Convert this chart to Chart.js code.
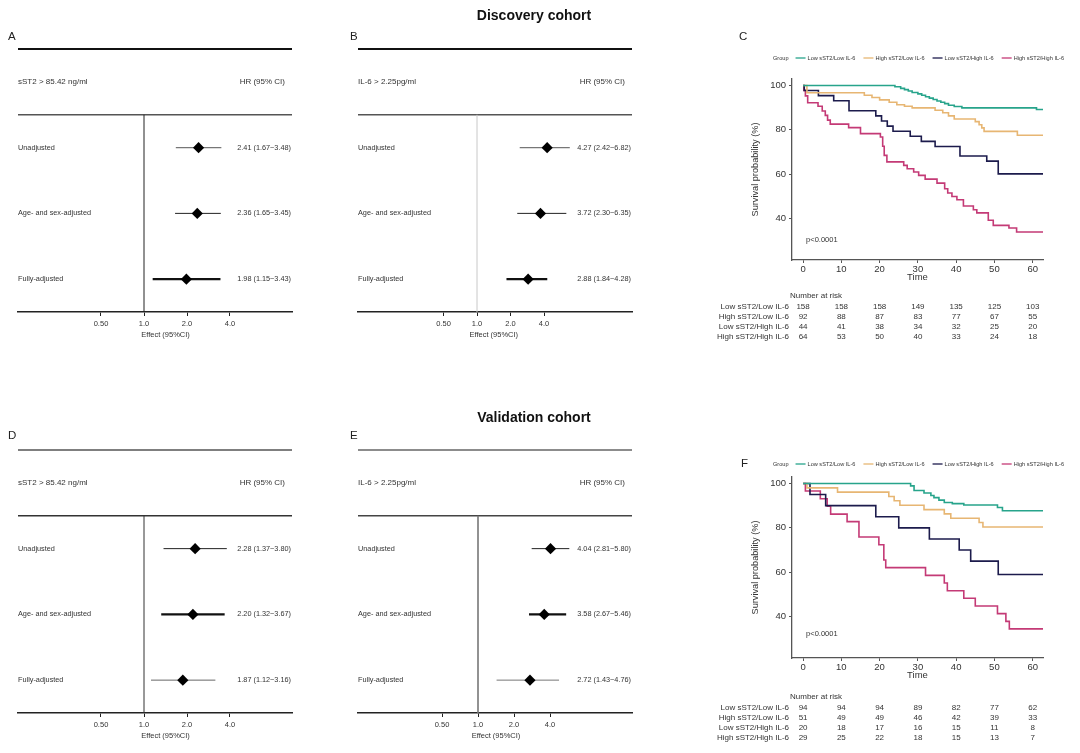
<!DOCTYPE html>
<html><head><meta charset="utf-8">
<script src="https://cdn.jsdelivr.net/npm/chart.js@4.4.0/dist/chart.umd.min.js"></script>
<style>
html,body{margin:0;padding:0;background:#fff;}
#wrap{position:relative;width:1080px;height:753px;overflow:hidden;background:#fff;font-family:"Liberation Sans",Arial,sans-serif;}
#wrap canvas{position:absolute;left:0;top:0;}
.lbl{position:absolute;font-size:11.5px;color:#222;line-height:1;transform:translateY(-50%);}
.ttl{position:absolute;font-weight:bold;font-size:14px;color:#111;transform:translate(-50%,-50%);white-space:nowrap;}
</style></head><body>
<div id="wrap">
<canvas id="cA" width="1080" height="753"></canvas>
<canvas id="cB" width="1080" height="753"></canvas>
<canvas id="cC" width="1080" height="753"></canvas>
<canvas id="cD" width="1080" height="753"></canvas>
<canvas id="cE" width="1080" height="753"></canvas>
<canvas id="cF" width="1080" height="753"></canvas>
<div class="ttl" style="left:534px;top:15px">Discovery cohort</div>
<div class="ttl" style="left:534px;top:417px">Validation cohort</div>
<div class="lbl" style="left:8px;top:37px">A</div>
<div class="lbl" style="left:350px;top:37px">B</div>
<div class="lbl" style="left:739px;top:37px">C</div>
<div class="lbl" style="left:8px;top:436px">D</div>
<div class="lbl" style="left:350px;top:436px">E</div>
<div class="lbl" style="left:741px;top:464px">F</div>
</div>
<script>
// ---------------- DATA ----------------
const forestRows = ['Unadjusted', 'Age- and sex-adjusted', 'Fully-adjusted'];
const forestTickValues = [0.5, 1, 2, 4];
const forestTickLabels = ['0.50', '1.0', '2.0', '4.0'];

const hrA = [2.41, 2.36, 1.98];
const loA = [1.67, 1.65, 1.15];
const hiA = [3.48, 3.45, 3.43];

const hrB = [4.27, 3.72, 2.88];
const loB = [2.42, 2.30, 1.84];
const hiB = [6.82, 6.35, 4.28];

const hrD = [2.28, 2.20, 1.87];
const loD = [1.37, 1.32, 1.12];
const hiD = [3.80, 3.67, 3.16];

const hrE = [4.04, 3.58, 2.72];
const loE = [2.81, 2.67, 1.43];
const hiE = [5.80, 5.46, 4.76];

const groups = ['Low sST2/Low IL-6', 'High sST2/Low IL-6', 'Low sST2/High IL-6', 'High sST2/High IL-6'];
const kmTimeTicks = [0, 10, 20, 30, 40, 50, 60];
const kmSurvTicks = [40, 60, 80, 100];
const riskTimes = [0, 10, 20, 30, 40, 50, 60];

// Discovery cohort KM (time, survival %)
const tC1 = [0, 24, 25.5, 26.5, 27.5, 28.5, 30, 31, 32, 33, 34, 35, 36, 37, 38, 39.5, 41.5, 61, 62.8];
const sC1 = [100, 99.4, 98.7, 98.1, 97.5, 96.8, 96.2, 95.6, 94.9, 94.3, 93.7, 93.0, 92.4, 91.8, 91.1, 90.5, 89.9, 89.2, 89.2];
const tC2 = [0, 1, 16, 18, 20, 22.5, 24.5, 26.5, 28.5, 34.5, 36.5, 38, 39.5, 45, 46, 46.7, 47.3, 56, 62.8];
const sC2 = [100, 96.7, 95.6, 94.6, 93.5, 92.4, 91.3, 90.6, 89.9, 88.8, 87.7, 86.3, 84.9, 83.7, 82.3, 80.9, 79.3, 77.6, 77.6];
const tC3 = [0, 0.3, 4, 8, 12, 19, 20.5, 22, 23.5, 28, 30.9, 34.5, 41, 48, 51, 62.8];
const sC3 = [100, 97.7, 95.4, 93.1, 88.6, 86.3, 84.0, 81.7, 79.4, 77.1, 74.8, 72.5, 68.2, 65.9, 60.2, 60.2];
const tC4 = [0, 0.2, 0.6, 1.2, 3.9, 5, 5.8, 6.4, 7.1, 11.9, 15, 20.2, 20.8, 21.2, 21.9, 26.3, 27.2, 28.9, 30.2, 31.9, 35, 37, 37.8, 38.9, 40.2, 41.9, 44.5, 45.4, 48.4, 49.7, 53.8, 55.8, 62.8];
const sC4 = [100, 97.8, 95.3, 92.2, 90.6, 88.5, 86.5, 84.4, 82.6, 81.0, 78.3, 76.8, 72.6, 68.5, 65.6, 64.0, 62.5, 61.0, 59.5, 57.8, 56.0, 53.5, 51.6, 50.0, 48.5, 45.7, 44.0, 42.6, 39.3, 37.0, 35.8, 34.0, 34.0];
const riskC1 = [158, 158, 158, 149, 135, 125, 103];
const riskC2 = [92, 88, 87, 83, 77, 67, 55];
const riskC3 = [44, 41, 38, 34, 32, 25, 20];
const riskC4 = [64, 53, 50, 40, 33, 24, 18];

// Validation cohort KM
const tF1 = [0, 28.1, 29, 31.6, 33.4, 34.2, 35.5, 36.9, 39, 42, 50.8, 52.1, 62.8];
const sF1 = [100, 98.9, 96.8, 95.7, 94.6, 93.6, 92.5, 91.4, 90.9, 90.3, 89.2, 87.7, 87.7];
const tF2 = [0, 1, 9, 22.4, 23.8, 25.3, 31.6, 36.9, 38.6, 46, 47, 62.8];
const sF2 = [100, 98.0, 96.1, 94.1, 92.2, 90.2, 88.2, 86.3, 84.3, 82.4, 80.4, 80.4];
const tF3 = [0, 1.8, 5.9, 19, 25, 33, 40.8, 43.8, 51, 62.8];
const sF3 = [100, 95, 90, 85, 80, 75, 70, 65, 59, 59];
const tF4 = [0, 0.6, 4.5, 6.3, 7.2, 11.5, 14.6, 19.8, 21.1, 21.6, 32, 36.9, 37.7, 42, 45, 50.8, 53, 53.9, 62.8];
const sF4 = [100, 96.6, 93.1, 89.7, 86.2, 82.8, 75.9, 72.4, 65.5, 62.1, 58.6, 55.2, 51.7, 48.3, 44.8, 41.4, 37.9, 34.5, 34.5];
const riskF1 = [94, 94, 94, 89, 82, 77, 62];
const riskF2 = [51, 49, 49, 46, 42, 39, 33];
const riskF3 = [20, 18, 17, 16, 15, 11, 8];
const riskF4 = [29, 25, 22, 18, 15, 13, 7];

// ---------------- STYLE / LAYOUT ----------------
const FONT = '"Liberation Sans", Arial, sans-serif';
Chart.defaults.font.family = FONT;
const groupColors = ['#27A48B', '#E7B673', '#1C1B4C', '#C43A76'];
const TXT = '#333';

function hline(ctx, x1, x2, y, color, w) {
  ctx.beginPath(); ctx.strokeStyle = color; ctx.lineWidth = w;
  ctx.moveTo(x1, y); ctx.lineTo(x2, y); ctx.stroke();
}
function vline(ctx, x, y1, y2, color, w) {
  ctx.beginPath(); ctx.strokeStyle = color; ctx.lineWidth = w;
  ctx.moveTo(x, y1); ctx.lineTo(x, y2); ctx.stroke();
}
function fmt(v) { return v.toFixed(2); }

const FOREST_H = 263, FOREST_AX = 30;
function forestChart(id, c) {
  const datasets = forestRows.map((r, i) => ({
    data: [{x: c.lo[i], y: i}, {x: c.hi[i], y: i}],
    showLine: true, pointRadius: 0, borderColor: c.ciColor[i], borderWidth: c.ciWidth[i], order: 2
  }));
  datasets.push({
    data: c.hr.map((v, i) => ({x: v, y: i})),
    pointStyle: 'rectRot', pointRadius: 5.6, backgroundColor: '#000', borderColor: '#000', borderWidth: 0, order: 1
  });
  const xmin = Math.pow(2, -(c.ref - c.left) / c.d);
  const xmax = Math.pow(2, (c.right - c.ref) / c.d);
  new Chart(document.getElementById(id), {
    type: 'scatter',
    data: {datasets},
    options: {
      responsive: false, animation: false, events: [],
      layout: {padding: {left: c.left, right: 1080 - c.right, top: c.top, bottom: 753 - (c.top + FOREST_H) - FOREST_AX}},
      plugins: {legend: {display: false}, tooltip: {enabled: false}},
      scales: {
        x: {
          type: 'logarithmic', min: xmin, max: xmax,
          afterBuildTicks: s => { s.ticks = forestTickValues.map(v => ({value: v})); },
          afterFit: s => { s.height = FOREST_AX; },
          ticks: {autoSkip: false, maxRotation: 0, color: TXT, font: {size: 7.5}, padding: 3,
            callback: v => forestTickLabels[forestTickValues.indexOf(v)]},
          grid: {drawOnChartArea: false, tickLength: 4, color: '#222', tickWidth: 1},
          border: {display: true, color: '#222', width: 1.6}
        },
        y: {type: 'linear', display: false, min: -1.5, max: 2.5, reverse: true}
      }
    },
    plugins: [{
      id: 'forestDeco',
      beforeDatasetsDraw(chart) {
        const {ctx, chartArea: a, scales: {x, y}} = chart;
        ctx.save();
        hline(ctx, a.left, a.right, y.getPixelForValue(-1.5), c.topColor, c.topWidth);
        hline(ctx, a.left, a.right, y.getPixelForValue(-0.5), c.hdrColor, 1.4);
        const xr = x.getPixelForValue(1);
        vline(ctx, xr, y.getPixelForValue(-0.5), a.bottom, c.refColor, c.refWidth);
        ctx.restore();
      },
      afterDraw(chart) {
        const {ctx, chartArea: a, scales: {x, y}} = chart;
        ctx.save();
        ctx.fillStyle = TXT; ctx.textBaseline = 'middle';
        ctx.font = '8px ' + FONT;
        ctx.textAlign = 'left';
        ctx.fillText(c.header, a.left, y.getPixelForValue(-1));
        ctx.textAlign = 'right';
        ctx.fillText('HR (95% CI)', a.right - 7, y.getPixelForValue(-1));
        ctx.font = '7.3px ' + FONT;
        forestRows.forEach((r, i) => {
          ctx.textAlign = 'left';
          ctx.fillText(r, a.left, y.getPixelForValue(i));
          ctx.textAlign = 'right';
          ctx.fillText(fmt(c.hr[i]) + ' (' + fmt(c.lo[i]) + '~' + fmt(c.hi[i]) + ')', a.right - 1, y.getPixelForValue(i));
        });
        ctx.font = '7.5px ' + FONT;
        ctx.textAlign = 'center';
        const tx = (x.getPixelForValue(forestTickValues[0]) + x.getPixelForValue(forestTickValues[forestTickValues.length - 1])) / 2;
        ctx.fillText('Effect (95%CI)', tx, a.bottom + 23);
        ctx.restore();
      }
    }]
  });
}

forestChart('cA', {hr: hrA, lo: loA, hi: hiA, header: 'sST2 > 85.42 ng/ml',
  left: 18, right: 292, top: 49, ref: 144, d: 43,
  topColor: '#111', topWidth: 2, hdrColor: '#555', refColor: '#222', refWidth: 1,
  ciColor: ['#777', '#222', '#111'], ciWidth: [1.3, 1, 2.2]});
forestChart('cB', {hr: hrB, lo: loB, hi: hiB, header: 'IL-6 > 2.25pg/ml',
  left: 358, right: 632, top: 49, ref: 477, d: 33.5,
  topColor: '#111', topWidth: 2, hdrColor: '#555', refColor: '#c8c8c8', refWidth: 1,
  ciColor: ['#777', '#222', '#111'], ciWidth: [1.3, 1, 2.2]});
forestChart('cD', {hr: hrD, lo: loD, hi: hiD, header: 'sST2 > 85.42 ng/ml',
  left: 18, right: 292, top: 450, ref: 144, d: 43,
  topColor: '#555', topWidth: 1.6, hdrColor: '#333', refColor: '#333', refWidth: 1,
  ciColor: ['#222', '#111', '#666'], ciWidth: [1, 2.2, 1]});
forestChart('cE', {hr: hrE, lo: loE, hi: hiE, header: 'IL-6 > 2.25pg/ml',
  left: 358, right: 632, top: 450, ref: 478, d: 36,
  topColor: '#666', topWidth: 1.6, hdrColor: '#444', refColor: '#777', refWidth: 1.6,
  ciColor: ['#222', '#111', '#777'], ciWidth: [1, 2.2, 1]});

const KM_LEFT = 792, KM_RIGHT = 1043, KM_XAX = 23.5, KM_YTITLE_CX = 755;
function kmChart(id, c) {
  const datasets = groups.map((g, i) => ({
    label: g,
    data: c.times[i].map((t, j) => ({x: t, y: c.surv[i][j]})),
    showLine: true, stepped: true, pointRadius: 0, borderColor: groupColors[i], borderWidth: 1.6, fill: false
  }));
  const ytLine = 9.2 * 1.2;
  const yAxisW = KM_LEFT - (KM_YTITLE_CX - ytLine / 2);
  new Chart(document.getElementById(id), {
    type: 'scatter',
    data: {datasets},
    options: {
      responsive: false, animation: false, events: [],
      layout: {padding: {left: KM_LEFT - yAxisW, right: 1080 - KM_RIGHT, top: c.top, bottom: 753 - c.bottom - KM_XAX}},
      plugins: {legend: {display: false}, tooltip: {enabled: false}},
      scales: {
        x: {
          type: 'linear', min: -2.9, max: 62.7,
          afterBuildTicks: s => { s.ticks = kmTimeTicks.map(v => ({value: v})); },
          afterFit: s => { s.height = KM_XAX; },
          ticks: {autoSkip: false, maxRotation: 0, color: TXT, font: {size: 9.5}, padding: 1},
          grid: {drawOnChartArea: false, tickLength: 3, color: '#555'},
          border: {display: true, color: '#555', width: 1.3},
          title: {display: true, text: 'Time', color: TXT, font: {size: 9.5}, padding: 0}
        },
        y: {
          type: 'linear', min: 21.4, max: 102.9,
          afterBuildTicks: s => { s.ticks = kmSurvTicks.map(v => ({value: v})); },
          afterFit: s => { s.width = yAxisW; },
          ticks: {color: TXT, font: {size: 9.5}, padding: 3},
          grid: {drawOnChartArea: false, tickLength: 3, color: '#555'},
          border: {display: true, color: '#555', width: 1.3},
          title: {display: true, text: 'Survival probability (%)', color: TXT, font: {size: 9.2}, padding: 0}
        }
      }
    },
    plugins: [{
      id: 'kmDeco',
      afterDraw(chart) {
        const {ctx, chartArea: a, scales: {x, y}} = chart;
        ctx.save();
        ctx.textBaseline = 'middle';
        // legend
        ctx.font = '5.6px ' + FONT;
        ctx.fillStyle = TXT; ctx.textAlign = 'left';
        let lx = c.legendX;
        ctx.fillText('Group', lx, c.legendY);
        lx += ctx.measureText('Group').width + 7;
        groups.forEach((g, i) => {
          hline(ctx, lx, lx + 10, c.legendY, groupColors[i], 1.3);
          lx += 12;
          ctx.fillStyle = TXT;
          ctx.fillText(g, lx, c.legendY);
          lx += ctx.measureText(g).width + 8;
        });
        // p-value
        ctx.font = '7.5px ' + FONT;
        ctx.fillText('p<0.0001', x.getPixelForValue(0) + 3, y.getPixelForValue(c.pY));
        // risk table
        ctx.font = '8px ' + FONT;
        ctx.fillStyle = TXT;
        ctx.textAlign = 'left';
        ctx.fillText('Number at risk', KM_LEFT - 2, a.bottom + c.narDY);
        groups.forEach((g, i) => {
          const ry = a.bottom + c.narDY + 10.3 * (i + 1);
          ctx.textAlign = 'right';
          ctx.fillText(g, KM_LEFT - 3, ry);
          ctx.textAlign = 'center';
          c.risk[i].forEach((n, j) => ctx.fillText(String(n), x.getPixelForValue(riskTimes[j]), ry));
        });
        ctx.restore();
      }
    }]
  });
}

kmChart('cC', {times: [tC1, tC2, tC3, tC4], surv: [sC1, sC2, sC3, sC4], risk: [riskC1, riskC2, riskC3, riskC4],
  top: 79, bottom: 260, legendX: 773, legendY: 58, pY: 30.3, narDY: 36});
kmChart('cF', {times: [tF1, tF2, tF3, tF4], surv: [sF1, sF2, sF3, sF4], risk: [riskF1, riskF2, riskF3, riskF4],
  top: 477, bottom: 658, legendX: 773, legendY: 464, pY: 32.2, narDY: 39});
</script>
</body></html>
